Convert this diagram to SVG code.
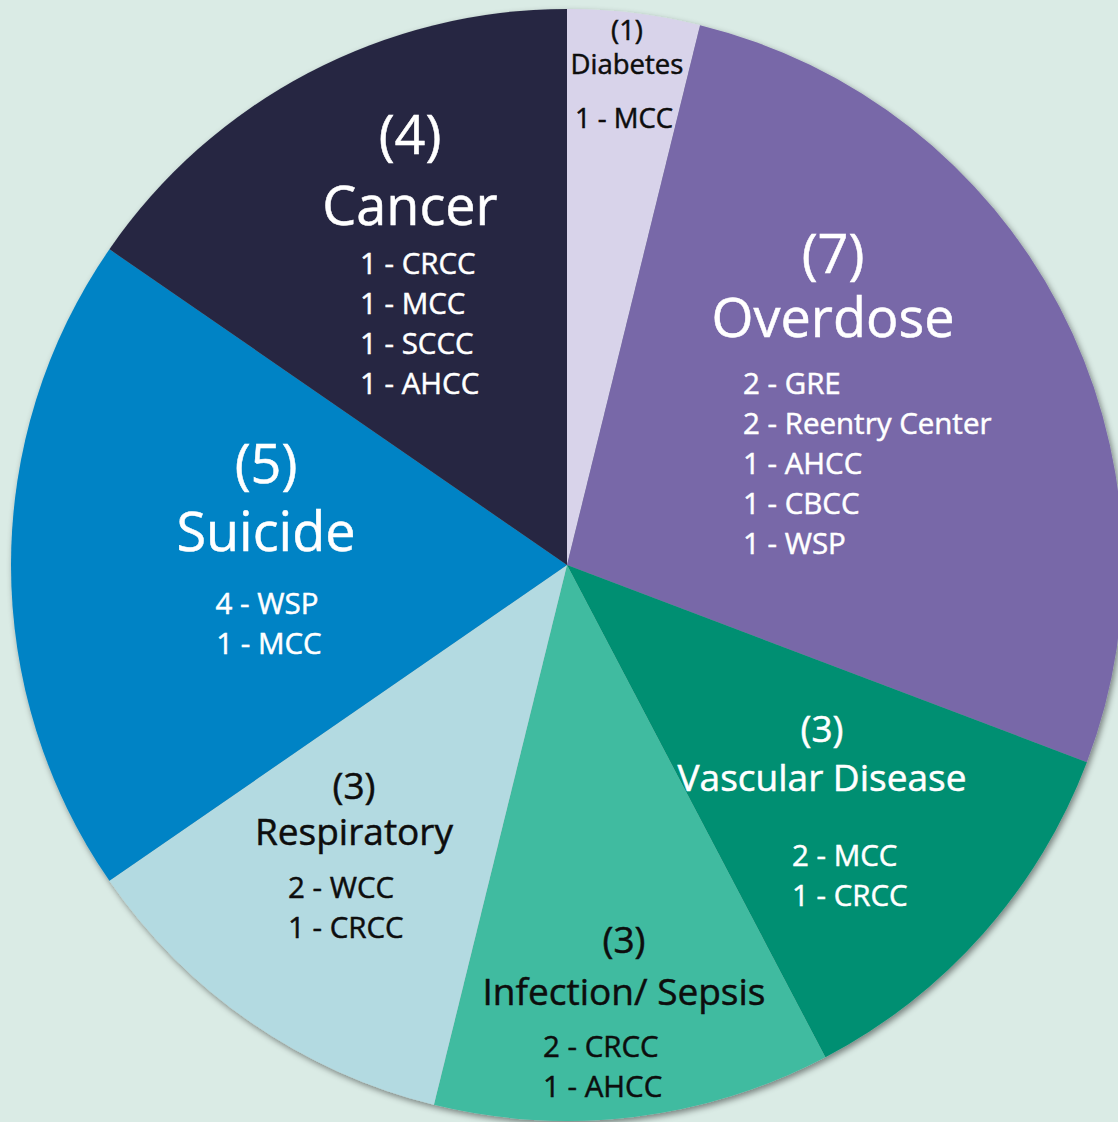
<svg xmlns="http://www.w3.org/2000/svg" width="1118" height="1122" viewBox="0 0 1118 1122">
<defs>
<style>
text{font-family:"Open Sans","Noto Sans","Liberation Sans",sans-serif;}
.w{fill:#ffffff;stroke:#ffffff;stroke-width:0.5;}
.k{fill:#0d0d0d;stroke:#0d0d0d;stroke-width:0.5;}
.big{font-size:54px;}
.mid{font-size:37px;}
.sm{font-size:29.5px;}
.xs{font-size:27.5px;}
.c{text-anchor:middle;}
</style>
<filter id="sh" x="-10%" y="-10%" width="120%" height="120%">
<feDropShadow dx="2" dy="3" stdDeviation="3" flood-color="#000" flood-opacity="0.45"/>
</filter>
</defs>
<rect width="1118" height="1122" fill="#daebe5"/>
<g id="pie" filter="url(#sh)">
<g id="diabetes"><path d="M567,565 L567,9 A556,556 0 0 1 700.06,25.16 Z" fill="#d8d3ea"/></g>
<g id="overdose"><path d="M567,565 L700.06,25.16 A556,556 0 0 1 1086.87,762.16 Z" fill="#7868a8"/></g>
<g id="vascular"><path d="M567,565 L1086.87,762.16 A556,556 0 0 1 825.38,1057.31 Z" fill="#058f72"/></g>
<g id="infection"><path d="M567,565 L825.38,1057.31 A556,556 0 0 1 433.94,1104.84 Z" fill="#40bba0"/></g>
<g id="respiratory"><path d="M567,565 L433.94,1104.84 A556,556 0 0 1 109.42,880.84 Z" fill="#b3dae1"/></g>
<g id="suicide"><path d="M567,565 L109.42,880.84 A556,556 0 0 1 109.42,249.16 Z" fill="#0483c5"/></g>
<g id="cancer"><path d="M567,565 L109.42,249.16 A556,556 0 0 1 567,9 Z" fill="#282843"/></g>
</g>
<g id="labels">
<g id="lbl-diabetes" class="k">
<text class="xs c" x="627" y="40">(1)</text>
<text class="xs c" x="627" y="74">Diabetes</text>
<text class="xs c" x="624" y="128">1 - MCC</text>
</g>
<g id="lbl-cancer" class="w">
<text class="big c" x="410" y="154">(4)</text>
<text class="big c" x="410" y="225">Cancer</text>
<text class="sm" x="360" y="274">1 - CRCC</text>
<text class="sm" x="360" y="314">1 - MCC</text>
<text class="sm" x="360" y="354">1 - SCCC</text>
<text class="sm" x="360" y="394">1 - AHCC</text>
</g>
<g id="lbl-overdose" class="w">
<text class="big c" x="833" y="273">(7)</text>
<text class="big c" x="833" y="337">Overdose</text>
<text class="sm" x="743" y="394">2 - GRE</text>
<text class="sm" x="743" y="434">2 - Reentry Center</text>
<text class="sm" x="743" y="474">1 - AHCC</text>
<text class="sm" x="743" y="514">1 - CBCC</text>
<text class="sm" x="743" y="554">1 - WSP</text>
</g>
<g id="lbl-suicide" class="w">
<text class="big c" x="266" y="483">(5)</text>
<text class="big c" x="266" y="551">Suicide</text>
<text class="sm c" x="267" y="614">4 - WSP</text>
<text class="sm c" x="269" y="654">1 - MCC</text>
</g>
<g id="lbl-respiratory" class="k">
<text class="mid c" x="354" y="799">(3)</text>
<text class="mid c" x="354" y="845">Respiratory</text>
<text class="sm" x="288" y="898">2 - WCC</text>
<text class="sm" x="288" y="938">1 - CRCC</text>
</g>
<g id="lbl-infection" class="k">
<text class="mid c" x="624" y="953">(3)</text>
<text class="mid c" x="624" y="1005">Infection/ Sepsis</text>
<text class="sm" x="543" y="1057">2 - CRCC</text>
<text class="sm" x="543" y="1097">1 - AHCC</text>
</g>
<g id="lbl-vascular" class="w">
<text class="mid c" x="822" y="742">(3)</text>
<text class="mid c" x="822" y="791">Vascular Disease</text>
<text class="sm" x="792" y="866">2 - MCC</text>
<text class="sm" x="792" y="906">1 - CRCC</text>
</g>
</g>
</svg>
